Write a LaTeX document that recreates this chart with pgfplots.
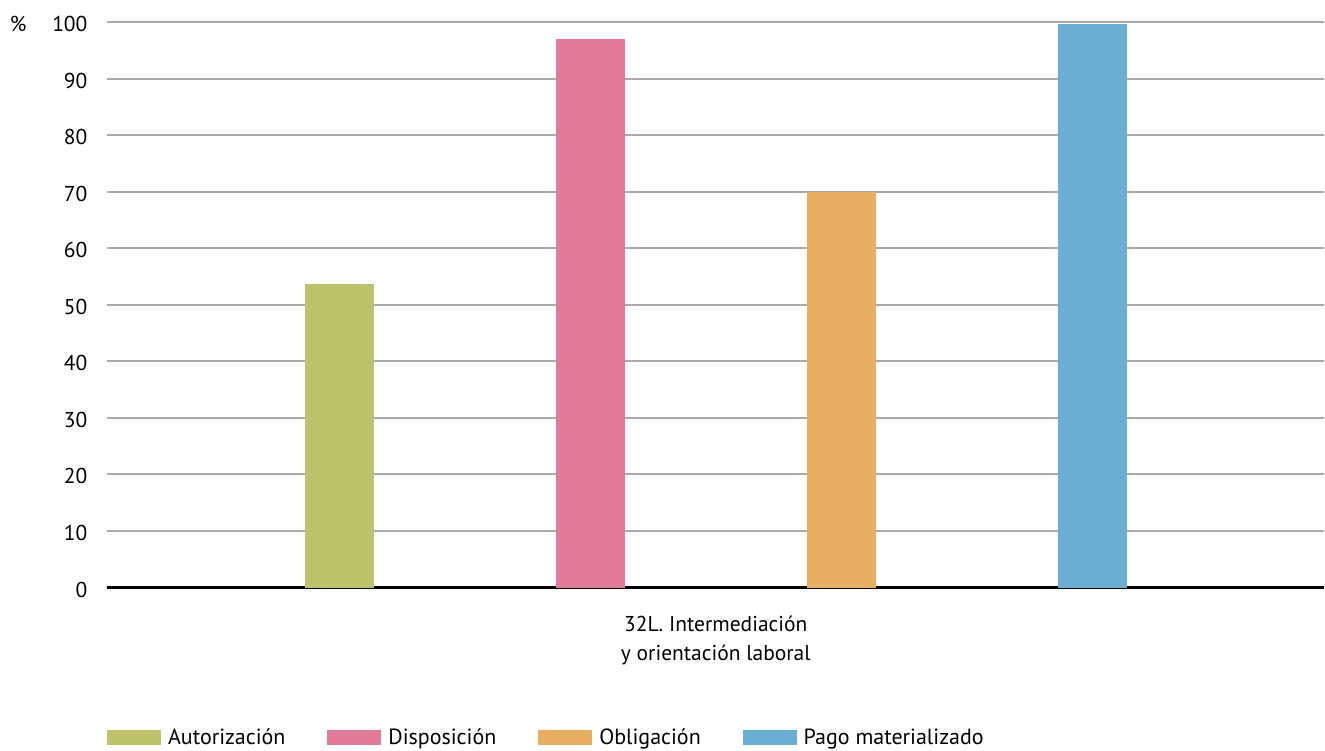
\documentclass[border=0pt]{standalone}
\usepackage{pgfplots}
\pgfplotsset{compat=1.18}
\usepackage{fontspec}
\setmainfont{PT Sans}
\usetikzlibrary{calc}
\definecolor{cGreen}{RGB}{189,195,107}
\definecolor{cPink}{RGB}{226,122,154}
\definecolor{cOrange}{RGB}{232,174,98}
\definecolor{cBlue}{RGB}{106,175,210}
\definecolor{cGrid}{RGB}{170,170,170}
\begin{document}
\begin{tikzpicture}
\begin{axis}[
  name=ax,
  scale only axis,
  width=1218pt, height=566pt,
  xmin=-0.925, xmax=3.922,
  ymin=0, ymax=100,
  ytick={0,10,...,100},
  xtick={1.5},
  xticklabels={{32L. Intermediación\\y orientación laboral}},
  xticklabel style={align=center, font=\fontsize{21.5}{29}\selectfont, yshift=-25pt},
  yticklabel style={font=\fontsize{21.5}{25}\selectfont, xshift=-16pt, yshift=-2pt},
  /pgf/number format/assume math mode=true,
  major tick length=0pt,
  axis x line*=bottom,
  axis y line*=left,
  x axis line style={black, line width=2.2pt},
  y axis line style={draw=none},
  ymajorgrids,
  grid style={cGrid, line width=2pt},
  ybar, bar width=69pt, bar shift=0pt,
  every axis plot/.append style={draw=none},
  legend style={at={(axis description cs:0,0)}, anchor=west, yshift=-150pt,
    draw=none, inner sep=0pt, font=\fontsize{22}{25}\selectfont,
    legend columns=-1, column sep=0pt},
  legend image code/.code={\fill[#1] (0pt,-7.5pt) rectangle (54pt,7.5pt);},
  legend cell align=left,
  /tikz/every even column/.append style={column sep=40pt},
]
\addplot[fill=cGreen] coordinates {(0,53.7)};
\addlegendentry{\hspace{5pt}Autorización}
\addplot[fill=cPink] coordinates {(1,97.0)};
\addlegendentry{\hspace{5pt}Disposición}
\addplot[fill=cOrange] coordinates {(2,70.0)};
\addlegendentry{\hspace{5pt}Obligación}
\addplot[fill=cBlue] coordinates {(3,99.7)};
\addlegendentry{\hspace{5pt}Pago materializado}
\end{axis}
\node[anchor=east, font=\fontsize{21.5}{25}\selectfont] at ($(ax.north west)+(-77pt,-2pt)$) {\%};
\path[use as bounding box] ($(ax.south west)+(-107pt,-163pt)$) rectangle ($(ax.north east)+(0pt,22pt)$);
\end{tikzpicture}
\end{document}
